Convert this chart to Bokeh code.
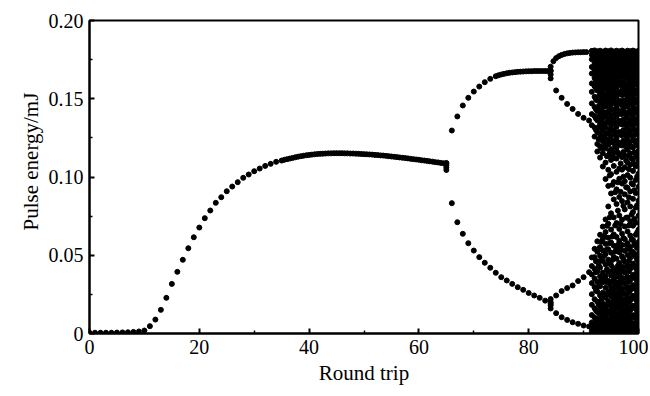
from bokeh.plotting import figure
from bokeh.models import FixedTicker, Range1d, Title
from bokeh.embed import file_html
from bokeh.resources import INLINE

# ---- data ----
# single branch (transient rise + plateau)
rise_x = list(range(0, 36))
rise_y = [0.0005, 0.0005, 0.0005, 0.0005, 0.0005, 0.0006, 0.0007, 0.0008, 0.0010, 0.0013,
          0.0019, 0.0047, 0.0089, 0.0151, 0.0228, 0.0317, 0.0394, 0.0471, 0.0545, 0.0615,
          0.0677, 0.0737, 0.0786, 0.0835, 0.0871, 0.0909, 0.0939, 0.0967, 0.0995, 0.1016,
          0.1037, 0.1054, 0.1071, 0.1084, 0.1097, 0.1105]
plateau_x = [35.5, 36, 36.5, 37, 37.5, 38, 38.5, 39, 39.5, 40, 40.5, 41, 41.5, 42, 42.5,
             43, 43.5, 44, 44.5, 45, 45.5, 46, 46.5, 47, 47.5, 48, 48.5, 49, 49.5, 50,
             50.5, 51, 51.5, 52, 52.5, 53, 53.5, 54, 54.5, 55, 55.5, 56, 56.5, 57, 57.5,
             58, 58.5, 59, 59.5, 60, 60.5, 61, 61.5, 62, 62.5, 63, 63.5, 64, 64.5, 65]
plateau_y = [0.1110, 0.1114, 0.1118, 0.1122, 0.1126, 0.1130, 0.1133, 0.1136, 0.1139, 0.1141,
             0.1143, 0.1145, 0.1147, 0.1148, 0.1149, 0.1150, 0.1151, 0.1151, 0.1152, 0.1152,
             0.1152, 0.1152, 0.1151, 0.1151, 0.1150, 0.1150, 0.1149, 0.1148, 0.1147, 0.1146,
             0.1145, 0.1144, 0.1143, 0.1141, 0.1140, 0.1138, 0.1137, 0.1135, 0.1133, 0.1131,
             0.1129, 0.1127, 0.1125, 0.1123, 0.1121, 0.1119, 0.1116, 0.1114, 0.1112, 0.1110,
             0.1107, 0.1105, 0.1103, 0.1100, 0.1098, 0.1095, 0.1093, 0.1090, 0.1088, 0.1085]
knot1_x = [65, 65, 65, 65]
knot1_y = [0.1045, 0.1060, 0.1075, 0.1090]

# period-2 branches
p2_up_x = [66, 67, 68, 69, 70, 71, 72, 73, 74, 74.5, 75, 75.5, 76, 76.5, 77, 77.5, 78, 78.5,
           79, 79.5, 80, 80.5, 81, 81.5, 82, 82.5, 83, 83.5, 84]
p2_up_y = [0.1297, 0.1387, 0.1457, 0.1506, 0.1546, 0.1578, 0.1606, 0.1627, 0.1644, 0.1650,
           0.1655, 0.1659, 0.1663, 0.1666, 0.1668, 0.1670, 0.1672, 0.1673, 0.1674, 0.1675,
           0.1676, 0.1676, 0.1677, 0.1677, 0.1677, 0.1677, 0.1677, 0.1677, 0.1677]
p2_lo_x = [66, 67, 68, 69, 70, 71, 72, 73, 74, 75, 76, 77, 78, 79, 80, 81, 82, 83, 84]
p2_lo_y = [0.0833, 0.0711, 0.0637, 0.0577, 0.0530, 0.0488, 0.0452, 0.0420, 0.0388, 0.0360,
           0.0339, 0.0317, 0.0296, 0.0279, 0.0259, 0.0243, 0.0228, 0.0210, 0.0190]
knot2_x = [84, 84, 84, 84, 84, 84, 84, 84]
knot2_y = [0.1630, 0.1655, 0.1680, 0.1705, 0.0160, 0.0180, 0.0200, 0.0220]

# period-4 branches
p4_uu_x = [84.5, 85, 85.5, 86, 86.5, 87, 87.5, 88, 88.5, 89, 89.5, 90, 90.5]
p4_uu_y = [0.1740, 0.1760, 0.1772, 0.1780, 0.1786, 0.1790, 0.1793, 0.1795, 0.1796, 0.1797,
           0.1797, 0.1798, 0.1798]
p4_ul_x = [85, 86, 87, 88, 89, 90, 91]
p4_ul_y = [0.1553, 0.1506, 0.1467, 0.1435, 0.1403, 0.1378, 0.1361]
p4_lu_x = [85, 86, 87, 88, 89, 90, 91]
p4_lu_y = [0.0243, 0.0271, 0.0290, 0.0307, 0.0335, 0.0360, 0.0392]
p4_ll_x = [85, 86, 87, 88, 89, 90, 91]
p4_ll_y = [0.0130, 0.0104, 0.0087, 0.0072, 0.0062, 0.0051, 0.0045]

# chaotic region: one list of energies per round-trip column
chaos_x = [91.5, 92, 92.5, 93, 93.5, 94, 94.5, 95, 95.5, 96, 96.5, 97, 97.5, 98, 98.5, 99, 99.5, 100]
chaos_y = [
    [0.1806, 0.1781, 0.1752, 0.1703, 0.1661, 0.1598, 0.1544, 0.1470, 0.1402, 0.1331,
     0.0486, 0.0431, 0.0377, 0.0322, 0.0251, 0.0183, 0.0118, 0.0071, 0.0033, 0.0012],
    [0.1809, 0.1792, 0.1768, 0.1729, 0.1687, 0.1633, 0.1580, 0.1512, 0.1447, 0.1389, 0.1316, 0.1258,
     0.0541, 0.0488, 0.0413, 0.0352, 0.0297, 0.0219, 0.0161, 0.0102, 0.0058, 0.0021],
    [0.1803, 0.1776, 0.1741, 0.1712, 0.1649, 0.1607, 0.1553, 0.1489, 0.1421, 0.1362, 0.1287, 0.1211,
     0.1163, 0.0589, 0.0523, 0.0462, 0.0398, 0.0331, 0.0268, 0.0204, 0.0137, 0.0086, 0.0044, 0.0009],
    [0.1807, 0.1789, 0.1757, 0.1721, 0.1676, 0.1622, 0.1571, 0.1528, 0.1461, 0.1398, 0.1339, 0.1273,
     0.1196, 0.1124, 0.0631, 0.0552, 0.0497, 0.0421, 0.0366, 0.0302, 0.0243, 0.0172, 0.0119, 0.0067,
     0.0028, 0.0006],
    [0.1801, 0.1772, 0.1738, 0.1694, 0.1648, 0.1596, 0.1537, 0.1483, 0.1417, 0.1348, 0.1296, 0.1229,
     0.1152, 0.1067, 0.0683, 0.0604, 0.0531, 0.0463, 0.0389, 0.0327, 0.0261, 0.0191, 0.0139, 0.0082,
     0.0047, 0.0016],
    [0.1808, 0.1786, 0.1761, 0.1717, 0.1671, 0.1629, 0.1566, 0.1509, 0.1452, 0.1381, 0.1317, 0.1246,
     0.1183, 0.1092, 0.0987, 0.0729, 0.0648, 0.0573, 0.0507, 0.0441, 0.0368, 0.0292, 0.0229, 0.0158,
     0.0097, 0.0052, 0.0019],
    [0.1804, 0.1779, 0.1743, 0.1699, 0.1657, 0.1602, 0.1549, 0.1474, 0.1408, 0.1352, 0.1277, 0.1208,
     0.1137, 0.1046, 0.0943, 0.0812, 0.0701, 0.0612, 0.0538, 0.0472, 0.0396, 0.0337, 0.0268, 0.0207,
     0.0144, 0.0089, 0.0036, 0.0011],
    [0.1809, 0.1791, 0.1763, 0.1725, 0.1683, 0.1640, 0.1583, 0.1521, 0.1463, 0.1394, 0.1331, 0.1262,
     0.1178, 0.1109, 0.1018, 0.0895, 0.0768, 0.0664, 0.0582, 0.0516, 0.0437, 0.0371, 0.0296, 0.0238,
     0.0171, 0.0113, 0.0063, 0.0024],
    [0.1802, 0.1774, 0.1746, 0.1706, 0.1659, 0.1611, 0.1558, 0.1497, 0.1429, 0.1368, 0.1302, 0.1231,
     0.1157, 0.1071, 0.0968, 0.0857, 0.0742, 0.0633, 0.0561, 0.0489, 0.0417, 0.0349, 0.0277, 0.0213,
     0.0152, 0.0094, 0.0049, 0.0014],
    [0.1807, 0.1788, 0.1754, 0.1719, 0.1677, 0.1624, 0.1575, 0.1513, 0.1446, 0.1387, 0.1321, 0.1249,
     0.1186, 0.1118, 0.1033, 0.0921, 0.0827, 0.0706, 0.0617, 0.0544, 0.0478, 0.0402, 0.0328, 0.0259,
     0.0196, 0.0128, 0.0076, 0.0031, 0.0008],
    [0.1803, 0.1781, 0.1748, 0.1702, 0.1664, 0.1609, 0.1547, 0.1487, 0.1422, 0.1359, 0.1287, 0.1218,
     0.1143, 0.1054, 0.0989, 0.0872, 0.0754, 0.0668, 0.0591, 0.0519, 0.0451, 0.0383, 0.0314, 0.0246,
     0.0183, 0.0121, 0.0068, 0.0027, 0.0005],
    [0.1808, 0.1793, 0.1760, 0.1728, 0.1686, 0.1637, 0.1578, 0.1524, 0.1458, 0.1403, 0.1336, 0.1268,
     0.1201, 0.1127, 0.1047, 0.0958, 0.0846, 0.0727, 0.0638, 0.0566, 0.0493, 0.0427, 0.0356, 0.0287,
     0.0221, 0.0163, 0.0104, 0.0057, 0.0018],
    [0.1801, 0.1777, 0.1739, 0.1697, 0.1652, 0.1598, 0.1541, 0.1479, 0.1413, 0.1344, 0.1281, 0.1213,
     0.1138, 0.1062, 0.0973, 0.0889, 0.0793, 0.0684, 0.0603, 0.0528, 0.0458, 0.0391, 0.0322, 0.0253,
     0.0189, 0.0132, 0.0079, 0.0036, 0.0010],
    [0.1807, 0.1790, 0.1757, 0.1716, 0.1674, 0.1628, 0.1569, 0.1507, 0.1449, 0.1376, 0.1312, 0.1241,
     0.1174, 0.1093, 0.1012, 0.0931, 0.0838, 0.0741, 0.0652, 0.0577, 0.0502, 0.0436, 0.0363, 0.0298,
     0.0232, 0.0169, 0.0111, 0.0061, 0.0022],
    [0.1804, 0.1783, 0.1745, 0.1708, 0.1661, 0.1613, 0.1552, 0.1492, 0.1427, 0.1364, 0.1296, 0.1226,
     0.1151, 0.1079, 0.0996, 0.0908, 0.0812, 0.0717, 0.0626, 0.0553, 0.0484, 0.0414, 0.0342, 0.0276,
     0.0211, 0.0149, 0.0092, 0.0045, 0.0013],
    [0.1808, 0.1787, 0.1762, 0.1722, 0.1681, 0.1632, 0.1581, 0.1516, 0.1455, 0.1391, 0.1323, 0.1256,
     0.1189, 0.1112, 0.1039, 0.0952, 0.0861, 0.0776, 0.0689, 0.0598, 0.0521, 0.0447, 0.0376, 0.0309,
     0.0241, 0.0177, 0.0117, 0.0066, 0.0029, 0.0007],
    [0.1802, 0.1775, 0.1741, 0.1699, 0.1656, 0.1603, 0.1544, 0.1482, 0.1418, 0.1351, 0.1283, 0.1217,
     0.1146, 0.1068, 0.0981, 0.0897, 0.0805, 0.0708, 0.0631, 0.0559, 0.0489, 0.0418, 0.0349, 0.0282,
     0.0218, 0.0157, 0.0098, 0.0051, 0.0017],
    [0.1806, 0.1789, 0.1756, 0.1713, 0.1671, 0.1621, 0.1565, 0.1504, 0.1443, 0.1379, 0.1309, 0.1238,
     0.1168, 0.1097, 0.1021, 0.0937, 0.0848, 0.0752, 0.0663, 0.0584, 0.0511, 0.0441, 0.0371, 0.0303,
     0.0237, 0.0172, 0.0113, 0.0062, 0.0024],
]

# chaotic region, in-between columns
chaos2_x = [92.25, 92.75, 93.25, 93.75, 94.25, 94.75, 95.25, 95.75, 96.25, 96.75, 97.25, 97.75,
            98.25, 98.75, 99.25, 99.75]
chaos2_y = [
    [0.1798, 0.1760, 0.1722, 0.1665, 0.1618, 0.1569, 0.1497, 0.1433, 0.1374, 0.1301,
     0.0462, 0.0392, 0.0275, 0.0148, 0.0079, 0.0030],
    [0.1796, 0.1767, 0.1728, 0.1690, 0.1637, 0.1585, 0.1515, 0.1452, 0.1380, 0.1318, 0.1242,
     0.0541, 0.0437, 0.0302, 0.0186, 0.0097, 0.0040],
    [0.1799, 0.1748, 0.1706, 0.1660, 0.1608, 0.1556, 0.1497, 0.1432, 0.1371, 0.1312, 0.1250, 0.1183,
     0.0586, 0.0468, 0.0338, 0.0215, 0.0150, 0.0093, 0.0036],
    [0.1797, 0.1757, 0.1716, 0.1683, 0.1619, 0.1568, 0.1512, 0.1455, 0.1396, 0.1323, 0.1262, 0.1197,
     0.0622, 0.0496, 0.0357, 0.0238, 0.0171, 0.0109, 0.0062, 0.0028],
    [0.1797, 0.1771, 0.1730, 0.1686, 0.1643, 0.1587, 0.1530, 0.1477, 0.1415, 0.1348, 0.1281, 0.1214,
     0.1133, 0.0688, 0.0539, 0.0410, 0.0327, 0.0251, 0.0184, 0.0126, 0.0074, 0.0034],
    [0.1799, 0.1764, 0.1722, 0.1679, 0.1626, 0.1574, 0.1501, 0.1437, 0.1372, 0.1306, 0.1240, 0.1162,
     0.1010, 0.0742, 0.0577, 0.0451, 0.0318, 0.0253, 0.0187, 0.0133, 0.0077, 0.0041, 0.0015],
    [0.1797, 0.1775, 0.1741, 0.1704, 0.1662, 0.1602, 0.1545, 0.1488, 0.1428, 0.1358, 0.1296, 0.1220,
     0.1142, 0.0950, 0.0620, 0.0470, 0.0402, 0.0330, 0.0263, 0.0195, 0.0137, 0.0086, 0.0042, 0.0010],
    [0.1798, 0.1760, 0.1727, 0.1689, 0.1642, 0.1590, 0.1532, 0.1468, 0.1404, 0.1340, 0.1272, 0.1197,
     0.1120, 0.0903, 0.0690, 0.0524, 0.0382, 0.0303, 0.0240, 0.0170, 0.0111, 0.0060, 0.0022],
    [0.1799, 0.1771, 0.1736, 0.1695, 0.1652, 0.1598, 0.1538, 0.1479, 0.1416, 0.1350, 0.1285, 0.1222,
     0.1157, 0.0966, 0.0785, 0.0566, 0.0433, 0.0365, 0.0292, 0.0223, 0.0160, 0.0100, 0.0051, 0.0016],
    [0.1797, 0.1766, 0.1728, 0.1688, 0.1640, 0.1591, 0.1530, 0.1468, 0.1403, 0.1340, 0.1270, 0.1205,
     0.1087, 0.0905, 0.0700, 0.0540, 0.0410, 0.0340, 0.0268, 0.0205, 0.0143, 0.0088, 0.0043, 0.0012],
    [0.1799, 0.1774, 0.1737, 0.1700, 0.1656, 0.1606, 0.1553, 0.1490, 0.1430, 0.1368, 0.1300, 0.1234,
     0.1160, 0.1002, 0.0815, 0.0610, 0.0476, 0.0394, 0.0323, 0.0255, 0.0194, 0.0136, 0.0084, 0.0040,
     0.0011],
    [0.1798, 0.1762, 0.1724, 0.1682, 0.1636, 0.1583, 0.1525, 0.1461, 0.1396, 0.1330, 0.1262, 0.1190,
     0.1105, 0.0935, 0.0740, 0.0565, 0.0425, 0.0355, 0.0288, 0.0219, 0.0156, 0.0101, 0.0052, 0.0018],
    [0.1799, 0.1772, 0.1733, 0.1692, 0.1648, 0.1595, 0.1540, 0.1478, 0.1413, 0.1347, 0.1278, 0.1209,
     0.1135, 0.1050, 0.0870, 0.0690, 0.0540, 0.0465, 0.0398, 0.0330, 0.0262, 0.0198, 0.0138, 0.0083,
     0.0039, 0.0010],
    [0.1797, 0.1765, 0.1726, 0.1686, 0.1638, 0.1586, 0.1528, 0.1467, 0.1401, 0.1334, 0.1266, 0.1193,
     0.1120, 0.0960, 0.0760, 0.0600, 0.0518, 0.0428, 0.0359, 0.0292, 0.0226, 0.0164, 0.0105, 0.0055,
     0.0019],
    [0.1799, 0.1773, 0.1739, 0.1701, 0.1659, 0.1609, 0.1555, 0.1495, 0.1433, 0.1366, 0.1299, 0.1231,
     0.1158, 0.1082, 0.0915, 0.0732, 0.0573, 0.0503, 0.0430, 0.0363, 0.0295, 0.0228, 0.0166, 0.0107,
     0.0056, 0.0019],
    [0.1798, 0.1763, 0.1728, 0.1690, 0.1644, 0.1591, 0.1534, 0.1474, 0.1409, 0.1340, 0.1272, 0.1202,
     0.1128, 0.1003, 0.0820, 0.0645, 0.0547, 0.0469, 0.0396, 0.0327, 0.0259, 0.0196, 0.0135, 0.0080,
     0.0036, 0.0009],
]

x_ticks = [0, 20, 40, 60, 80, 100]
x_minor = [10, 30, 50, 70, 90]
y_ticks = [0, 0.05, 0.10, 0.15, 0.20]
y_minor = [0.025, 0.075, 0.125, 0.175]
y_tick_labels = ["0", "0.05", "0.10", "0.15", "0.20"]

# ---- assemble points ----
xs, ys = [], []
for sx, sy in [(rise_x, rise_y), (plateau_x, plateau_y), (knot1_x, knot1_y),
               (p2_up_x, p2_up_y), (p2_lo_x, p2_lo_y), (knot2_x, knot2_y),
               (p4_uu_x, p4_uu_y), (p4_ul_x, p4_ul_y), (p4_lu_x, p4_lu_y), (p4_ll_x, p4_ll_y)]:
    xs.extend(sx)
    ys.extend(sy)
for cols_x, cols_y in [(chaos_x, chaos_y), (chaos2_x, chaos2_y)]:
    for cx, col in zip(cols_x, cols_y):
        xs.extend([cx] * len(col))
        ys.extend(col)

FONT = "Liberation Serif"

p = figure(width=648, height=394, output_backend="svg", toolbar_location=None,
           x_range=Range1d(0, 100), y_range=Range1d(0, 0.2),
           min_border_left=89, min_border_right=10, min_border_top=20, min_border_bottom=61)
p.background_fill_color = "white"
p.border_fill_color = "white"
p.grid.visible = False
p.outline_line_color = "black"
p.outline_line_width = 2

p.scatter(xs, ys, size=5, color="black", line_color="black")

p.xaxis.ticker = FixedTicker(ticks=x_ticks, minor_ticks=x_minor)
p.yaxis.ticker = FixedTicker(ticks=y_ticks, minor_ticks=y_minor)
p.yaxis.major_label_overrides = {t: l for t, l in zip(y_ticks, y_tick_labels)}
p.xaxis.major_label_overrides = {t: str(t) for t in x_ticks}

for ax in (p.xaxis[0], p.yaxis[0]):
    ax.axis_line_color = "black"
    ax.axis_line_width = 2
    ax.major_tick_in = 5
    ax.major_tick_out = 0
    ax.minor_tick_in = 3
    ax.minor_tick_out = 0
    ax.major_tick_line_width = 2
    ax.minor_tick_line_width = 1.5
    ax.major_tick_line_color = "black"
    ax.minor_tick_line_color = "black"
    ax.major_label_text_font = FONT
    ax.major_label_text_font_size = "20px"
    ax.major_label_text_color = "black"
    ax.axis_label_text_font = FONT
    ax.axis_label_text_font_size = "21px"
    ax.axis_label_text_font_style = "normal"
    ax.axis_label_text_color = "black"

p.xaxis.axis_label = "Round trip"
p.xaxis.major_label_standoff = 6
p.yaxis.major_label_standoff = 6
p.xaxis.axis_label_standoff = 4

# y-axis title in the left panel, placed a little above the frame centre
ytitle = Title(text="Pulse energy/mJ", align="left", offset=103, standoff=6,
               text_font=FONT, text_font_size="21px", text_font_style="normal",
               text_color="black")
p.add_layout(ytitle, "left")

open("out.html", "w").write(file_html(p, INLINE))
